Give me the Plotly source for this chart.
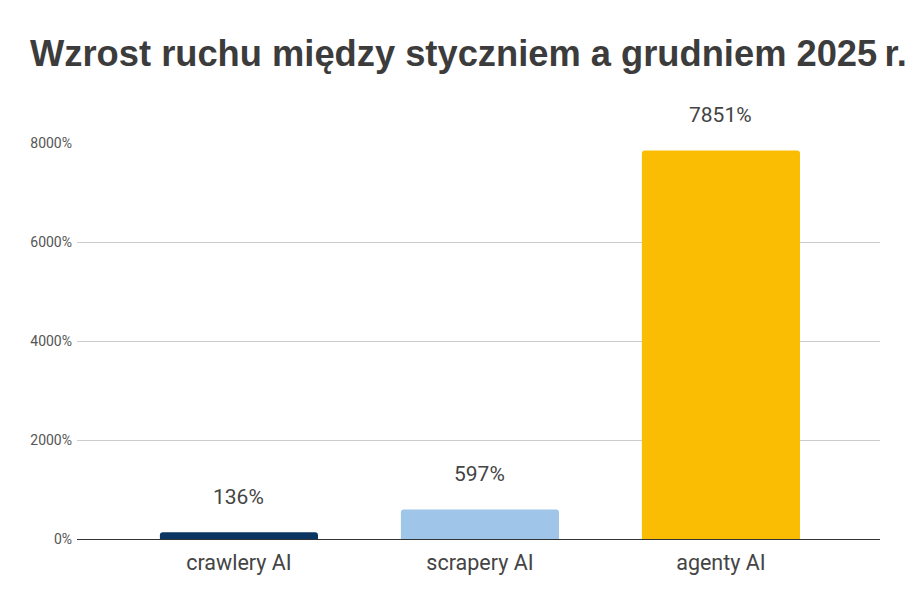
import plotly.graph_objects as go

kategorie = ["crawlery AI", "scrapery AI", "agenty AI"]
wzrost = [136, 597, 7851]
kolory = ["#0b3662", "#9fc5e8", "#fbbc04"]
y_ticks = [0, 2000, 4000, 6000, 8000]

fig = go.Figure()
fig.add_trace(go.Bar(
    x=kategorie, y=wzrost,
    marker=dict(color=kolory, cornerradius=3, line=dict(width=0)),
    width=0.656,
    hoverinfo="skip",
))

# etykiety wartości nad słupkami
for k, v in zip(kategorie, wzrost):
    fig.add_annotation(x=k, y=v, text=f"{v}%", showarrow=False,
                       yanchor="bottom", yshift=21,
                       font=dict(family="Roboto", size=21, color="#444444"))

fig.update_layout(
    width=920, height=606,
    paper_bgcolor="white", plot_bgcolor="white",
    margin=dict(l=69, r=48, t=135, b=75),
    showlegend=False,
    title=dict(text="<b>Wzrost ruchu między styczniem a grudniem 2025\u2009r.</b>",
               x=0.024, xanchor="left", y=0.925, yanchor="middle",
               font=dict(family="Liberation Sans", size=36.3, color="#3c3c3c")),
    xaxis=dict(range=[-0.672, 2.66], showgrid=False, showline=False,
               ticks="", ticklabelstandoff=8,
               tickfont=dict(family="Roboto", size=21.5, color="#444444")),
    yaxis=dict(range=[0, 8000], tickvals=y_ticks,
               ticktext=[f"{t}%" for t in y_ticks],
               showgrid=True, gridcolor="#cccccc", gridwidth=1,
               zeroline=True, zerolinecolor="#333333", zerolinewidth=1,
               tickfont=dict(family="Roboto", size=14, color="#555555"),
               ticks="", ticklen=0, ticklabelstandoff=4),
)
fig.write_html("out.html")
